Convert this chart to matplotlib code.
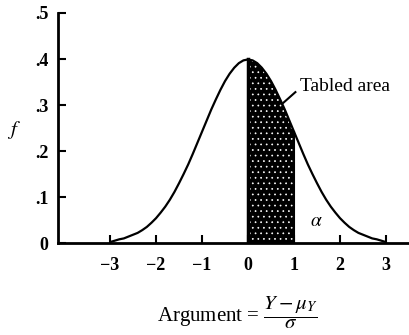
import matplotlib.pyplot as plt

plt.rcParams['font.family'] = 'Liberation Serif'
plt.rcParams['mathtext.fontset'] = 'stix'
plt.rcParams['hatch.linewidth'] = 0.5

# normal density
z = [-3.0, -2.9, -2.8, -2.7, -2.6, -2.5, -2.4, -2.3, -2.2, -2.1, -2.0, -1.9, -1.8, -1.7, -1.6,
     -1.5, -1.4, -1.3, -1.2, -1.1, -1.0, -0.9, -0.8, -0.7, -0.6, -0.5, -0.4, -0.3, -0.2, -0.1,
     0.0, 0.1, 0.2, 0.3, 0.4, 0.5, 0.6, 0.7, 0.8, 0.9, 1.0, 1.1, 1.2, 1.3, 1.4,
     1.5, 1.6, 1.7, 1.8, 1.9, 2.0, 2.1, 2.2, 2.3, 2.4, 2.5, 2.6, 2.7, 2.8, 2.9, 3.0]
f = [0.002, 0.005, 0.008, 0.010, 0.014, 0.018, 0.022, 0.028, 0.035, 0.044, 0.054, 0.066, 0.079, 0.094, 0.111,
     0.130, 0.150, 0.171, 0.194, 0.218, 0.242, 0.266, 0.290, 0.312, 0.333, 0.352, 0.368, 0.381, 0.391, 0.397,
     0.399, 0.397, 0.391, 0.381, 0.368, 0.352, 0.333, 0.312, 0.290, 0.266, 0.242, 0.218, 0.194, 0.171, 0.150,
     0.130, 0.111, 0.094, 0.079, 0.066, 0.054, 0.044, 0.035, 0.028, 0.022, 0.018, 0.014, 0.010, 0.008, 0.005, 0.002]
shade_from, shade_to = 0.0, 1.0
xticks = [-3, -2, -1, 0, 1, 2, 3]
yticks = [0, 0.1, 0.2, 0.3, 0.4, 0.5]
ylabels = ['0', '.1', '.2', '.3', '.4', '.5']

fig = plt.figure(figsize=(4.09, 3.35), dpi=100)
ax = fig.add_axes([0.142, 0.2746, 0.858, 0.6866])

ax.plot(z, f, color='black', lw=1.6, solid_capstyle='round')
zs = [v for v in z if shade_from <= v <= shade_to]
fs = [f[z.index(v)] for v in zs]
ax.fill_between(zs, 0, fs, facecolor='black', edgecolor='white', hatch='...', linewidth=0)
ax.plot([shade_from, shade_from], [0, fs[0]], color='black', lw=2.5)
ax.plot([shade_to, shade_to], [0, fs[-1]], color='black', lw=1.5)

ax.set_xlim(-4.13, 3.5)
ax.set_ylim(0, 0.5)
ax.set_xticks(xticks)
ax.set_yticks(yticks)
ax.set_yticklabels(ylabels)
for s in ['top', 'right']:
    ax.spines[s].set_visible(False)
for s in ['left', 'bottom']:
    ax.spines[s].set_linewidth(2)
ax.tick_params(direction='in', length=6, width=1.5, labelsize=13)
ax.tick_params(axis='x', pad=10)
ax.tick_params(axis='y', pad=7)
for lab in ax.get_xticklabels() + ax.get_yticklabels():
    lab.set_fontweight('bold')

ax.text(1.13, 0.34, 'Tabled area', fontsize=14, va='center', ha='left', clip_on=False)
ax.plot([0.77, 1.03], [0.305, 0.328], color='black', lw=1.5)
ax.text(1.48, 0.046, r'$\alpha$', fontsize=14, ha='center', va='center')

fig.text(0.034, 0.612, r'$f$', fontsize=15, ha='center', va='center')
fig.text(0.58, 0.065, r'Argument = $\dfrac{Y - \mu_Y}{\sigma}$', fontsize=15, ha='center', va='center')

fig.savefig('out.png', dpi=100)
